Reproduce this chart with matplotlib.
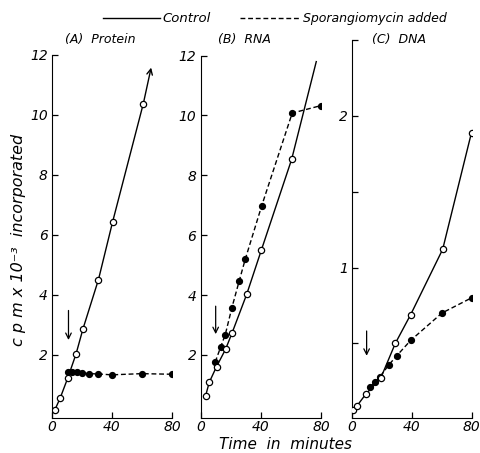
import numpy as np
import matplotlib
matplotlib.use("Agg")
import matplotlib.pyplot as plt
from matplotlib.lines import Line2D

FIG_SIZE = (4.8, 4.53)

# (A) Protein
prot_ctrl_t = [2, 5.5, 10.4, 16, 20.7, 31, 40.4, 60.9]
prot_ctrl_y = [0.17, 0.56, 1.21, 2.02, 2.87, 4.51, 6.43, 10.38]
prot_ctrl_end = (66.5, 11.67)
prot_drug_t = [10.4, 13.5, 16.4, 19.8, 24.9, 30.9, 39.8, 59.8, 79.8]
prot_drug_y = [1.42, 1.42, 1.41, 1.39, 1.37, 1.36, 1.33, 1.37, 1.35]

# (B) RNA
rna_ctrl_t = [3.3, 5.7, 10.6, 16.6, 20.8, 30.6, 40.3, 60.5]
rna_ctrl_y = [0.63, 1.08, 1.61, 2.19, 2.72, 4.02, 5.49, 8.53]
rna_ctrl_end = (76.9, 11.8)
rna_drug_t = [9.7, 13.3, 16.4, 20.8, 25.7, 29.7, 40.6, 60.9, 80]
rna_drug_y = [1.76, 2.26, 2.68, 3.58, 4.48, 5.2, 6.98, 10.08, 10.33]

# (C) DNA
dna_ctrl_t = [0.9, 3.5, 9.2, 19.2, 29, 39.3, 60.7, 80]
dna_ctrl_y = [0.06, 0.09, 0.165, 0.27, 0.50, 0.69, 1.12, 1.89]
dna_drug_t = [12, 15.4, 18.7, 24.8, 30.1, 39.3, 60.2, 80]
dna_drug_y = [0.21, 0.245, 0.28, 0.36, 0.42, 0.52, 0.70, 0.80]

# arrows marking drug addition: x, y top, y bottom
arrows = [(11, 3.57, 2.4), (10, 3.72, 2.6), (9.8, 0.6, 0.4)]
titles = ["(A)  Protein", "(B)  RNA", "(C)  DNA"]

ITAL = dict(style="italic", family="DejaVu Sans")

fig = plt.figure(figsize=FIG_SIZE, dpi=100)
axA = fig.add_axes([0.1083, 0.0779, 0.25, 0.8007])
axB = fig.add_axes([0.418, 0.0779, 0.2506, 0.7993])
axC = fig.add_axes([0.7333, 0.0779, 0.249, 0.8338])

data = [
    (axA, prot_ctrl_t, prot_ctrl_y, prot_drug_t, prot_drug_y),
    (axB, rna_ctrl_t, rna_ctrl_y, rna_drug_t, rna_drug_y),
    (axC, dna_ctrl_t, dna_ctrl_y, dna_drug_t, dna_drug_y),
]

for i, (ax, ct, cy, dt, dy) in enumerate(data):
    ax.plot(dt, dy, color="black", lw=1, ls=(0, (3.5, 2)),
            marker="o", ms=4.2, mfc="black", mec="black", zorder=2)
    ax.plot(ct, cy, color="black", lw=1, marker="o", ms=4.5,
            mfc="white", mec="black", mew=0.9, zorder=3)
    x, y1, y2 = arrows[i]
    ax.annotate("", xy=(x, y2), xytext=(x, y1),
                arrowprops=dict(arrowstyle="->", lw=0.9, color="black"))
    ax.set_xlim(0, 80)
    ax.set_xticks([0, 40, 80])
    for s in ("top", "right"):
        ax.spines[s].set_visible(False)
    ax.tick_params(direction="in", length=4, width=0.9, labelsize=10)
    ax.tick_params(axis="x", pad=1.5)
    ax.tick_params(axis="y", pad=3)

# tails of the control curves
axA.annotate("", xy=prot_ctrl_end, xytext=(prot_ctrl_t[-1], prot_ctrl_y[-1]),
             arrowprops=dict(arrowstyle="->", lw=1, color="black"))
axB.plot([rna_ctrl_t[-1], rna_ctrl_end[0]], [rna_ctrl_y[-1], rna_ctrl_end[1]],
         color="black", lw=1, zorder=1)

for ax in (axA, axB):
    ax.set_ylim(-0.1, 12)
    ax.set_yticks([2, 4, 6, 8, 10, 12])
    ax.set_yticklabels(["2", "4", "6", "8", "10", "12"], **ITAL)

axC.set_ylim(0.01, 2.5)
axC.set_yticks([0.5, 1, 1.5, 2, 2.5])
axC.set_yticklabels(["", "1", "", "2", ""], **ITAL)

for ax in (axA, axB, axC):
    ax.set_xticklabels(["0", "40", "80"], **ITAL)

fig.text(0.135, 0.905, titles[0], fontsize=9, **ITAL)
fig.text(0.454, 0.905, titles[1], fontsize=9, **ITAL)
fig.text(0.775, 0.905, titles[2], fontsize=9, **ITAL)

# legend across the top
fig.add_artist(Line2D([0.215, 0.333], [0.96, 0.96], color="black", lw=1))
fig.text(0.338, 0.96, "Control", fontsize=9.5, va="center", **ITAL)
fig.add_artist(Line2D([0.5, 0.628], [0.96, 0.96], color="black", lw=1,
                      ls=(0, (3.5, 2))))
fig.text(0.631, 0.96, "Sporangiomycin added", fontsize=9, va="center", **ITAL)

fig.text(0.038, 0.47, "c p m x 10⁻³  incorporated", rotation=90,
         fontsize=11.5, ha="center", va="center", **ITAL)
fig.text(0.595, 0.018, "Time  in  minutes", fontsize=11, ha="center",
         va="center", **ITAL)

fig.savefig("out.png", dpi=100)
